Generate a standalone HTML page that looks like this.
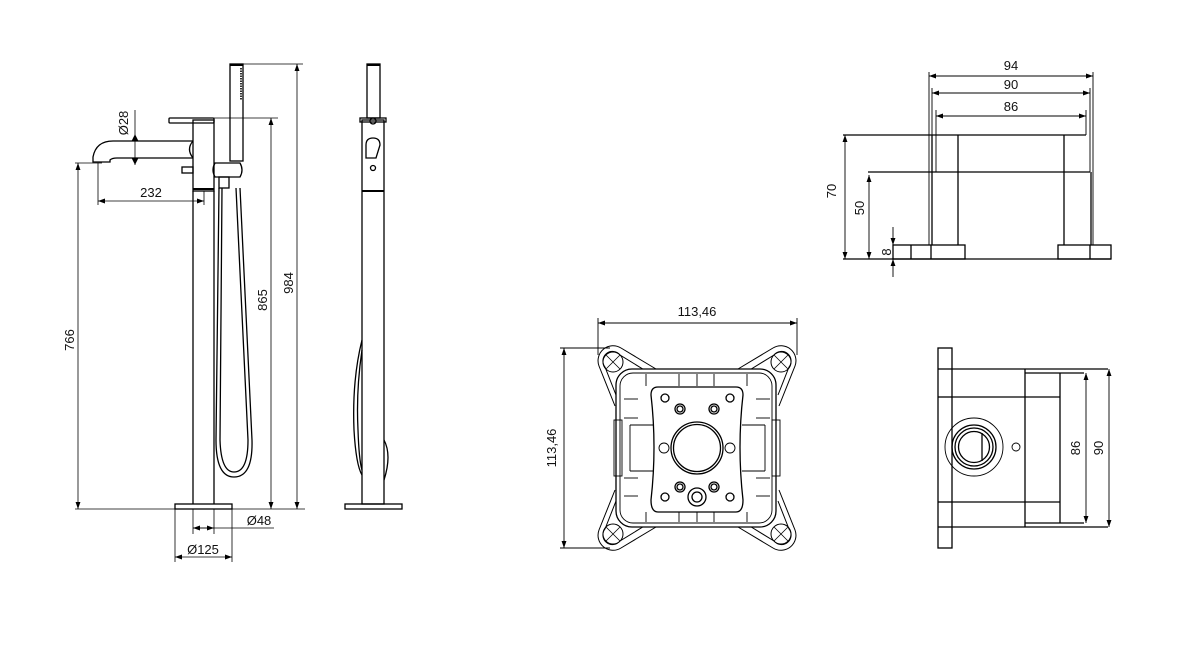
<!DOCTYPE html>
<html><head><meta charset="utf-8"><style>
html,body{margin:0;padding:0;background:#fff;}
svg{display:block;}
text{font-family:"Liberation Sans",sans-serif;font-size:13px;fill:#111;}
</style></head><body>
<svg width="1179" height="649" viewBox="0 0 1179 649" xmlns="http://www.w3.org/2000/svg">
<defs>
<marker id="a" viewBox="0 0 10 10" refX="10" refY="5" markerWidth="7" markerHeight="7" orient="auto-start-reverse" markerUnits="userSpaceOnUse"><path d="M0,1.5 L10,5 L0,8.5Z" fill="#000"/></marker>
</defs>
<g fill="none" stroke="#000" stroke-width="1.3">
<!-- ===== Front view mixer ===== -->
<rect x="175" y="504" width="57" height="5"/>
<line x1="193" y1="191" x2="193" y2="504"/>
<line x1="214" y1="191" x2="214" y2="504"/>
<rect x="193" y="120" width="21" height="71"/>
<line x1="193" y1="189" x2="214" y2="189" stroke-width="2"/>
<rect x="169" y="118" width="45" height="5" rx="1"/>
<path d="M193,141 L113,141 Q96,141 93,157 L93,162 L110,162 L110,160 Q112,158 117,158 L193,158"/>
<path d="M193,141 Q186,149 193,158"/>
<rect x="182" y="167" width="11" height="6"/>
<rect x="230" y="64" width="13" height="97"/>
<line x1="230" y1="65" x2="243" y2="65" stroke-width="2"/>
<line x1="241" y1="68" x2="241" y2="100" stroke-width="1.6" stroke-dasharray="1.5,1"/>
<path d="M215,163 L240,163 Q244,170 240,177 L215,177 Q211,170 215,163Z"/>
<rect x="219" y="177" width="10" height="11"/>
<path d="M219,188 L216,440 Q216,477 234,477 Q253,477 252,440 L240,188"/>
<path d="M222,188 L220,440 Q221,472 234,472 Q248,472 248,440 L236,188"/>
<!-- dims front -->
<g stroke-width="0.8">
<line x1="243" y1="64" x2="303" y2="64"/>
<line x1="214" y1="118" x2="278" y2="118"/>
<line x1="75" y1="163" x2="102" y2="163"/>
<line x1="75" y1="509" x2="305" y2="509"/>
<line x1="297" y1="64" x2="297" y2="509" marker-start="url(#a)" marker-end="url(#a)"/>
<line x1="271" y1="118" x2="271" y2="509" marker-start="url(#a)" marker-end="url(#a)"/>
<line x1="78" y1="163" x2="78" y2="509" marker-start="url(#a)" marker-end="url(#a)"/>
<line x1="98" y1="163" x2="98" y2="205"/>
<line x1="204" y1="191" x2="204" y2="205"/>
<line x1="98" y1="201" x2="204" y2="201" marker-start="url(#a)" marker-end="url(#a)"/>
<line x1="135" y1="110" x2="135" y2="165"/>
<path d="M135,135 l-3,6 h6z M135,164 l-3,-6 h6z" fill="#000"/>
<line x1="193" y1="509" x2="193" y2="534"/>
<line x1="214" y1="509" x2="214" y2="534"/>
<line x1="193" y1="528" x2="274" y2="528"/>
<line x1="193" y1="528" x2="214" y2="528" marker-start="url(#a)" marker-end="url(#a)"/>
<line x1="175" y1="509" x2="175" y2="562"/>
<line x1="232" y1="509" x2="232" y2="562"/>
<line x1="175" y1="557" x2="232" y2="557" marker-start="url(#a)" marker-end="url(#a)"/>
</g>
<!-- ===== side view ===== -->
<rect x="345" y="504" width="57" height="5"/>
<rect x="362" y="120" width="22" height="384"/>
<line x1="362" y1="191" x2="384" y2="191" stroke-width="2"/>
<rect x="360" y="118" width="26" height="4"/>
<rect x="367" y="64" width="13" height="54"/>
<line x1="367" y1="65" x2="380" y2="65" stroke-width="2"/>
<circle cx="373" cy="121" r="3"/>
<path d="M366,158 L366,145 Q366,138 373,138 Q380,138 380,145 L376,158Z"/>
<circle cx="373" cy="168" r="2.5"/>
<path d="M362,340 Q352,380 354,430 Q356,465 362,475"/>
<path d="M362,350 Q356,390 358,430 Q359,460 362,470"/>
<path d="M384,440 Q392,455 384,480"/>
<!-- ===== square box ===== -->
<g id="fl" stroke-width="1">
<path d="M656,369 L621,348 A15,15 0 0 0 599,366 L615,406"/>
<path d="M646,371 L620,355 A9,9 0 0 0 605,367 L616,395"/>
<circle cx="613" cy="362" r="10"/>
<line x1="606" y1="355" x2="620" y2="369" stroke-width="0.8"/>
<line x1="606" y1="369" x2="620" y2="355" stroke-width="0.8"/>
</g>
<use href="#fl" transform="translate(1394,0) scale(-1,1)"/>
<use href="#fl" transform="translate(0,896) scale(1,-1)"/>
<use href="#fl" transform="translate(1394,896) scale(-1,-1)"/>
<rect x="616" y="369" width="160" height="158" rx="16" fill="#fff"/>
<rect x="620" y="373" width="152" height="150" rx="13" stroke-width="0.9"/>
<path d="M658,387 L736,387 Q743,387 743,395 Q737,447 743,500 Q743,512 736,512 L658,512 Q651,512 651,500 Q657,447 651,395 Q651,387 658,387Z"/>
<circle cx="697" cy="448" r="26"/>
<circle cx="697" cy="448" r="23.5"/>
<circle cx="664" cy="448" r="5" stroke-width="0.9"/>
<circle cx="730" cy="448" r="5" stroke-width="0.9"/>
<circle cx="665" cy="398" r="4"/><circle cx="730" cy="398" r="4"/>
<circle cx="680" cy="409" r="5"/><circle cx="680" cy="409" r="3"/>
<circle cx="714" cy="409" r="5"/><circle cx="714" cy="409" r="3"/>
<circle cx="665" cy="497" r="4"/><circle cx="730" cy="497" r="4"/>
<circle cx="680" cy="487" r="5"/><circle cx="680" cy="487" r="3"/>
<circle cx="714" cy="487" r="5"/><circle cx="714" cy="487" r="3"/>
<circle cx="697" cy="497" r="9"/><circle cx="697" cy="497" r="5"/>
<g stroke-width="0.9">
<rect x="614" y="420" width="8" height="56"/><rect x="772" y="420" width="8" height="56"/>
<line x1="630" y1="425" x2="653" y2="425"/><line x1="630" y1="471" x2="653" y2="471"/>
<line x1="742" y1="425" x2="765" y2="425"/><line x1="742" y1="471" x2="765" y2="471"/>
<line x1="630" y1="425" x2="630" y2="471"/><line x1="765" y1="425" x2="765" y2="471"/>
<line x1="646" y1="374" x2="646" y2="386"/><line x1="679" y1="374" x2="679" y2="386"/><line x1="697" y1="374" x2="697" y2="386"/><line x1="714" y1="374" x2="714" y2="386"/><line x1="747" y1="374" x2="747" y2="386"/>
<line x1="646" y1="512" x2="646" y2="522"/><line x1="679" y1="512" x2="679" y2="522"/><line x1="697" y1="512" x2="697" y2="522"/><line x1="714" y1="512" x2="714" y2="522"/><line x1="747" y1="512" x2="747" y2="522"/>
<line x1="624" y1="399" x2="638" y2="399"/><line x1="624" y1="418" x2="638" y2="418"/><line x1="624" y1="478" x2="638" y2="478"/><line x1="624" y1="496" x2="638" y2="496"/>
<line x1="756" y1="399" x2="770" y2="399"/><line x1="756" y1="418" x2="770" y2="418"/><line x1="756" y1="478" x2="770" y2="478"/><line x1="756" y1="496" x2="770" y2="496"/>
<line x1="598" y1="318" x2="598" y2="355"/><line x1="797" y1="318" x2="797" y2="355"/>
<line x1="598" y1="323" x2="797" y2="323" marker-start="url(#a)" marker-end="url(#a)"/>
<line x1="560" y1="348" x2="610" y2="348"/><line x1="560" y1="548" x2="610" y2="548"/>
<line x1="564" y1="348" x2="564" y2="548" marker-start="url(#a)" marker-end="url(#a)"/>
</g>
<!-- ===== right top ===== -->
<line x1="843" y1="135" x2="1086" y2="135"/>
<line x1="868" y1="172" x2="1090" y2="172"/>
<line x1="843" y1="259" x2="1111" y2="259"/>
<rect x="893" y="245" width="72" height="14"/>
<line x1="911" y1="245" x2="911" y2="259"/><line x1="931" y1="245" x2="931" y2="259"/>
<rect x="1058" y="245" width="53" height="14"/>
<line x1="1090" y1="245" x2="1090" y2="259"/>
<line x1="932" y1="135" x2="932" y2="245"/><line x1="958" y1="135" x2="958" y2="245"/>
<line x1="1064" y1="135" x2="1064" y2="245"/><line x1="1091" y1="172" x2="1091" y2="245"/>
<g stroke-width="0.9">
<line x1="929" y1="72" x2="929" y2="245"/><line x1="1093" y1="72" x2="1093" y2="245"/>
<line x1="932" y1="88" x2="932" y2="135"/><line x1="1090" y1="88" x2="1090" y2="172"/>
<line x1="936" y1="110" x2="936" y2="172"/><line x1="1086" y1="110" x2="1086" y2="135"/>
<line x1="929" y1="76" x2="1093" y2="76" marker-start="url(#a)" marker-end="url(#a)"/>
<line x1="932" y1="93" x2="1090" y2="93" marker-start="url(#a)" marker-end="url(#a)"/>
<line x1="936" y1="116" x2="1086" y2="116" marker-start="url(#a)" marker-end="url(#a)"/>
<line x1="845" y1="135" x2="845" y2="259" marker-start="url(#a)" marker-end="url(#a)"/>
<line x1="869" y1="175" x2="869" y2="259" marker-start="url(#a)" marker-end="url(#a)"/>
<line x1="893" y1="227" x2="893" y2="245" marker-end="url(#a)"/>
<line x1="893" y1="277" x2="893" y2="259" marker-end="url(#a)"/>
</g>
<!-- ===== right bottom ===== -->
<rect x="938" y="348" width="14" height="200"/>
<line x1="938" y1="369" x2="952" y2="369"/><line x1="938" y1="397" x2="952" y2="397"/>
<line x1="938" y1="502" x2="952" y2="502"/><line x1="938" y1="527" x2="952" y2="527"/>
<line x1="952" y1="369" x2="1108" y2="369"/>
<line x1="952" y1="527" x2="1108" y2="527"/>
<line x1="952" y1="397" x2="1060" y2="397"/>
<line x1="952" y1="502" x2="1060" y2="502"/>
<line x1="1025" y1="369" x2="1025" y2="527"/>
<line x1="1025" y1="373" x2="1084" y2="373"/>
<line x1="1025" y1="523" x2="1084" y2="523"/>
<line x1="1060" y1="373" x2="1060" y2="523"/>
<circle cx="974" cy="447" r="29" stroke-width="0.9"/>
<circle cx="974" cy="447" r="22"/>
<circle cx="974" cy="447" r="19"/>
<circle cx="974" cy="447" r="15.5"/>
<line x1="982" y1="433" x2="982" y2="461"/>
<circle cx="1016" cy="447" r="4" stroke-width="0.9"/>
<g stroke-width="0.9">
<line x1="1086" y1="373" x2="1086" y2="523" marker-start="url(#a)" marker-end="url(#a)"/>
<line x1="1109" y1="369" x2="1109" y2="527" marker-start="url(#a)" marker-end="url(#a)"/>
</g>
</g>
<!-- text -->
<text x="151" y="197" text-anchor="middle" font-size="15">232</text>
<text x="259" y="525" text-anchor="middle" font-size="15">Ø48</text>
<text x="203" y="554" text-anchor="middle" font-size="15">Ø125</text>
<text transform="translate(128,123) rotate(-90)" text-anchor="middle" font-size="15">Ø28</text>
<text transform="translate(74,340) rotate(-90)" text-anchor="middle" font-size="15">766</text>
<text transform="translate(267,300) rotate(-90)" text-anchor="middle" font-size="15">865</text>
<text transform="translate(293,283) rotate(-90)" text-anchor="middle" font-size="15">984</text>
<text x="697" y="316" text-anchor="middle">113,46</text>
<text transform="translate(556,448) rotate(-90)" text-anchor="middle">113,46</text>
<text x="1011" y="70" text-anchor="middle">94</text>
<text x="1011" y="89" text-anchor="middle">90</text>
<text x="1011" y="111" text-anchor="middle">86</text>
<text transform="translate(836,191) rotate(-90)" text-anchor="middle">70</text>
<text transform="translate(864,208) rotate(-90)" text-anchor="middle">50</text>
<text transform="translate(891,252) rotate(-90)" text-anchor="middle">8</text>
<text transform="translate(1080,448) rotate(-90)" text-anchor="middle">86</text>
<text transform="translate(1103,448) rotate(-90)" text-anchor="middle">90</text>
</svg>
</body></html>
